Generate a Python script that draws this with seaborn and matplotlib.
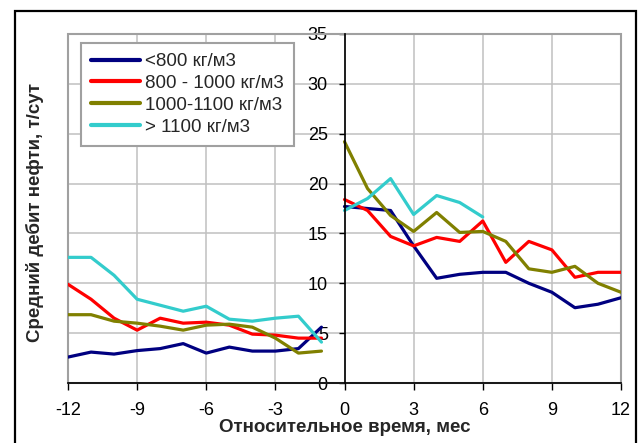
import matplotlib
matplotlib.use("Agg")
import matplotlib.pyplot as plt
import seaborn as sns
import pandas as pd
import numpy as np
from matplotlib.patches import Rectangle

sns.set_theme(style="white")
plt.rcParams['font.family'] = ['Liberation Sans', 'DejaVu Sans']

# ---- data ----
months_before = [-12, -11, -10, -9, -8, -7, -6, -5, -4, -3, -2, -1]
months_after = [0, 1, 2, 3, 4, 5, 6, 7, 8, 9, 10, 11, 12]

labels = ["<800 кг/м3", "800 - 1000 кг/м3", "1000-1100 кг/м3", "> 1100 кг/м3"]
colors = ["#000080", "#FF0000", "#808000", "#33CCCC"]

lt800_before = [2.6, 3.1, 2.9, 3.25, 3.45, 3.95, 3.0, 3.6, 3.2, 3.2, 3.45, 5.6]
lt800_after = [17.7, 17.5, 17.3, 13.75, 10.5, 10.9, 11.1, 11.1, 10.0, 9.1, 7.55, 7.9, 8.55]

r800_1000_before = [9.9, 8.4, 6.5, 5.3, 6.5, 6.0, 6.1, 5.8, 4.9, 4.8, 4.5, 4.5]
r800_1000_after = [18.4, 17.3, 14.7, 13.75, 14.6, 14.2, 16.25, 12.1, 14.2, 13.35, 10.6, 11.1, 11.1]

r1000_1100_before = [6.85, 6.85, 6.2, 6.0, 5.7, 5.3, 5.8, 5.9, 5.6, 4.5, 3.0, 3.2]
r1000_1100_after = [24.2, 19.5, 16.8, 15.2, 17.1, 15.1, 15.2, 14.2, 11.45, 11.1, 11.7, 10.0, 9.1]

gt1100_before = [12.6, 12.6, 10.8, 8.4, 7.8, 7.2, 7.7, 6.4, 6.2, 6.5, 6.7, 4.1]
gt1100_after = [17.3, 18.5, 20.5, 16.9, 18.8, 18.1, 16.65]

x_ticks = [-12, -9, -6, -3, 0, 3, 6, 9, 12]
y_ticks = [0, 5, 10, 15, 20, 25, 30, 35]

befores = [lt800_before, r800_1000_before, r1000_1100_before, gt1100_before]
afters = [lt800_after, r800_1000_after, r1000_1100_after, gt1100_after]

rows = []
for lab, b, a in zip(labels, befores, afters):
    for m, v in zip(months_before, b):
        rows.append((lab, "before", m, v))
    for m, v in zip(months_after[:len(a)], a):
        rows.append((lab, "after", m, v))
df = pd.DataFrame(rows, columns=["group", "segment", "month", "value"])

fig = plt.figure(figsize=(6.38, 4.43), dpi=100)
ax = fig.add_axes([68 / 638, 1 - 383 / 443, (621 - 68) / 638, (383 - 34) / 443])

sns.lineplot(data=df, x="month", y="value", hue="group", units="segment",
             estimator=None, palette=dict(zip(labels, colors)), hue_order=labels,
             linewidth=2.3, ax=ax, legend=False, sort=True)

ax.set_xlim(-12, 12)
ax.set_ylim(0, 35)
ax.set_xticks(x_ticks)
ax.set_yticks(y_ticks)
ax.set_xticklabels([str(t) for t in x_ticks])
ax.set_yticklabels([str(t) for t in y_ticks])
ax.set_xlabel("")
ax.set_ylabel("")

ax.grid(True, color="#c0c0c0", linewidth=1.1)
ax.set_axisbelow(True)

for s in ["top", "right"]:
    ax.spines[s].set_visible(False)
ax.spines["left"].set_position(("data", 0))
ax.spines["left"].set_color("black")
ax.spines["left"].set_linewidth(1.2)
ax.spines["bottom"].set_color("black")
ax.spines["bottom"].set_linewidth(1.2)
ax.spines["left"].set_zorder(3)

# grey plot-area border
ax.add_patch(Rectangle((0, 0), 1, 1, transform=ax.transAxes, fill=False,
                       edgecolor="#a0a0a0", linewidth=1.5, zorder=1, clip_on=False))

ax.tick_params(axis="x", direction="out", length=5, width=1, color="black",
               labelsize=13, pad=9, labelcolor="black", bottom=True)
ax.tick_params(axis="y", direction="out", length=4, width=1, color="black",
               labelsize=13, pad=8, labelcolor="black", left=True)

# legend
handles = [plt.Line2D([], [], color=c, linewidth=3) for c in colors]
leg = fig.legend(handles, labels, loc="upper left",
                 bbox_to_anchor=(80.7 / 638, 1 - 42.7 / 443),
                 fontsize=13.5, frameon=True, fancybox=False, framealpha=1,
                 edgecolor="#a0a0a0", handlelength=2.6, handletextpad=0.3,
                 labelspacing=0.25, borderpad=0.55, borderaxespad=0)
leg.get_frame().set_linewidth(1.5)

fig.text(0.541, 1 - 428 / 443, "Относительное время, мес", ha="center", va="center",
         fontsize=13.5, fontweight="bold")
fig.text(35 / 638, 1 - 213 / 443, "Средний дебит нефти, т/сут", ha="center", va="center",
         rotation=90, fontsize=13.5, fontweight="bold")

# outer frame
fig.patches.append(Rectangle((15 / 638, -0.02), (636 - 15) / 638, 0.02 + (443 - 11) / 443,
                             transform=fig.transFigure, fill=False, edgecolor="black",
                             linewidth=1.6))

fig.savefig("out.png", dpi=100)
